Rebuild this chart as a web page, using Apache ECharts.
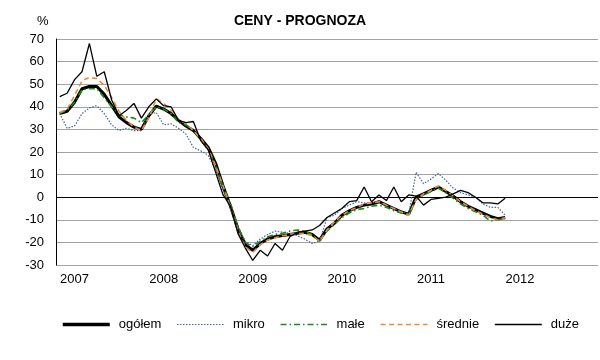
<!DOCTYPE html>
<html>
<head>
<meta charset="utf-8">
<script src="https://cdn.jsdelivr.net/npm/echarts@6/dist/echarts.min.js"></script>
<style>
html,body{margin:0;padding:0;background:#fff;}
#chart{width:600px;height:360px;}
</style>
</head>
<body>
<div id="chart"></div>
<script>
// Monthly categories, Nov 2006 .. Nov 2012
const months = [
  '2006-11','2006-12',
  '2007-01','2007-02','2007-03','2007-04','2007-05','2007-06','2007-07','2007-08','2007-09','2007-10','2007-11','2007-12',
  '2008-01','2008-02','2008-03','2008-04','2008-05','2008-06','2008-07','2008-08','2008-09','2008-10','2008-11','2008-12',
  '2009-01','2009-02','2009-03','2009-04','2009-05','2009-06','2009-07','2009-08','2009-09','2009-10','2009-11','2009-12',
  '2010-01','2010-02','2010-03','2010-04','2010-05','2010-06','2010-07','2010-08','2010-09','2010-10','2010-11','2010-12',
  '2011-01','2011-02','2011-03','2011-04','2011-05','2011-06','2011-07','2011-08','2011-09','2011-10','2011-11','2011-12',
  '2012-01','2012-02','2012-03','2012-04','2012-05','2012-06','2012-07','2012-08','2012-09','2012-10','2012-11'
];
const yearLabels = ['2007','2008','2009','2010','2011','2012'];
const seriesNames = ['ogółem','mikro','małe','średnie','duże'];

const ogolem = [37, 38, 42, 48, 49, 49, 45.5, 40.5, 35.5, 33, 31, 30, 36, 40.3, 39, 37, 34, 31.5, 29.5, 26,
  22, 15, 5, -4, -14, -21, -23.5, -20.5, -18.5, -17.5, -17, -16.5, -16, -15.5, -16.5, -19, -14, -11.5, -8, -6,
  -4.5, -3.5, -3, -2, -3.5, -5, -6.5, -7.5, 0, 1.5, 3, 4.5, 2.5, 0.5, -2, -4, -5.5, -7, -8.5, -9.5, -9];
const mikro = [37, 30.5, 31.5, 37, 39.5, 40.5, 37, 32, 29.5, 30.5, 29.5, 29.5, 36.5, 37.5, 32, 32.5, 30.5, 28, 22, 20.5,
  18.5, 12, 3, -5, -13, -19.5, -21.5, -18.5, -16.5, -15, -15.5, -16, -17, -18.5, -20.5, -19.5, -9, -8, -5, -3.5,
  -2, -2.5, -2.5, -2, -3.5, -5, -6, -7.5, 11, 6, 8, 10.5, 7.5, 4, 2, 1, 0, -3, -4.5, -4.5, -8];
const male = [37, 38.5, 42, 47.5, 48, 48, 44, 40, 36.5, 35.5, 35, 33, 36.5, 40, 39, 37, 33, 32, 29.5, 25.5,
  21, 14, 4.5, -3, -13, -20, -22, -19.5, -17.5, -16.5, -16, -15, -14.5, -15, -16.5, -19.5, -15, -12, -9, -7,
  -5.5, -5, -4, -3.5, -4.5, -6, -7, -8, -1, 1, 2.5, 4, 2, -0.5, -3, -5, -6.5, -8, -10.5, -10, -9.5];
const srednie = [37.5, 39, 45, 51.5, 53, 52.5, 49.5, 44, 38, 34, 31, 29.5, 35, 43.5, 41.5, 38.5, 34.5, 32.5, 29.5, 26,
  21.5, 14, 5, -4.5, -15, -22, -24.5, -21, -19, -18, -17, -16.5, -16, -16, -17, -19.5, -14.5, -11, -8, -6,
  -4.5, -3, -2.5, -2, -3.5, -5, -6.5, -8, -1, 1.5, 3, 5, 3, 0.5, -2, -4, -6, -7.5, -9, -10, -9];
const duze = [44.5, 46, 52, 55.5, 68, 53.5, 55.5, 43, 36, 38.5, 41.5, 35, 40, 43.5, 40.5, 40, 34, 33, 33.5, 25,
  21, 11, 1, -4, -16, -22.5, -28, -23.5, -26, -20.5, -23.5, -17.5, -15.5, -15, -14.5, -12.5, -9, -7, -5, -2,
  -1.5, 4.5, -2, 1, -1.5, 4.5, -2, 1, 0.5, -3.5, -1, -0.5, 0, 1.5, 3, 2, 0, -2.5, -2.5, -3, -0.5];

const FONT = 'Liberation Sans, Arial, sans-serif';
const grid = '#a3a3a3';
const splitColors = [grid, grid, grid, '#000', grid, grid, grid, grid, grid, grid, grid];

const styles = {
  'ogółem':  {color: '#000', width: 3, type: 'solid'},
  'mikro':   {color: '#3f64a0', width: 1.2, type: [1.5, 1.5]},
  'małe':    {color: '#1a8a1a', width: 1.6, type: [6, 3, 1.5, 3]},
  'średnie': {color: '#ec8a3a', width: 1.6, type: [5, 3.5]},
  'duże':    {color: '#000', width: 1.3, type: 'solid'}
};
const dataByName = {'ogółem': ogolem, 'mikro': mikro, 'małe': male, 'średnie': srednie, 'duże': duze};

const chart = echarts.init(document.getElementById('chart'), null, {renderer: 'canvas'});
chart.setOption({
  animation: false,
  backgroundColor: '#fff',
  title: [
    {text: 'CENY - PROGNOZA', left: 'center', top: 9,
     textStyle: {fontFamily: FONT, fontSize: 14, fontWeight: 'bold', color: '#000'}},
    {text: '%', left: 32, top: 10,
     textStyle: {fontFamily: FONT, fontSize: 13, fontWeight: 'normal', color: '#000'}}
  ],
  grid: {left: 56, right: 2, top: 39, bottom: 95, containLabel: false},
  legend: {
    data: seriesNames.map(function (n) {
      const s = styles[n];
      return {name: n, lineStyle: {color: s.color, width: n === 'ogółem' ? 3.5 : s.width, type: s.type}};
    }),
    left: 56, top: 313,
    itemWidth: 47, itemHeight: 14, itemGap: 15,
    itemStyle: {color: 'rgba(0,0,0,0)', borderWidth: 0, opacity: 0},
    textStyle: {fontFamily: FONT, fontSize: 13, color: '#000', padding: [0, 0, 0, 4]}
  },
  xAxis: {
    type: 'category',
    data: months,
    boundaryGap: true,
    axisLine: {show: false},
    axisTick: {show: false},
    splitLine: {show: false},
    axisLabel: {
      interval: function (idx, val) { return val.slice(5) === '01'; },
      formatter: function (val) { const y = val.slice(0, 4); return yearLabels.indexOf(y) >= 0 ? y : ''; },
      fontFamily: FONT, fontSize: 13, color: '#000', margin: 8
    }
  },
  yAxis: {
    type: 'value',
    min: -30, max: 70, interval: 10,
    axisLine: {show: true, lineStyle: {color: '#000', width: 1}},
    axisTick: {show: false},
    axisLabel: {fontFamily: FONT, fontSize: 13, color: '#000', margin: 12},
    splitLine: {show: true, lineStyle: {color: splitColors, width: 1.2}}
  },
  series: seriesNames.map(function (n) {
    const s = styles[n];
    return {name: n, type: 'line', data: dataByName[n], symbol: 'none', smooth: false,
      lineStyle: {color: s.color, width: s.width, type: s.type}, itemStyle: {color: s.color}};
  })
});
</script>
</body>
</html>
